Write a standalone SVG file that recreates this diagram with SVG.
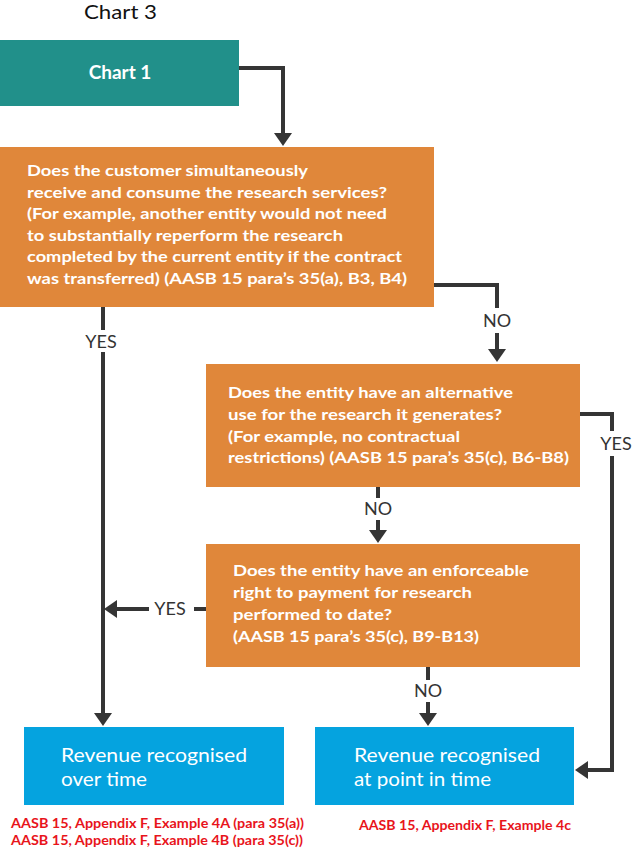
<svg xmlns="http://www.w3.org/2000/svg" width="634" height="862" viewBox="0 0 634 862">
<style>
.ln{fill:none;stroke:#353535;stroke-width:4;stroke-linejoin:miter}
.ah{fill:#353535}
.q{font-family:Lato,"Liberation Sans",sans-serif;font-weight:700;font-size:16px;fill:#fff}
.lbl{font-family:Lato,"Liberation Sans",sans-serif;font-size:18px;fill:#333;text-anchor:middle}
.res{font-family:Lato,"Liberation Sans",sans-serif;font-size:19px;fill:#fff}
.ref{font-family:Lato,"Liberation Sans",sans-serif;font-weight:700;font-size:12.5px;fill:#E8141B}
</style>
<text x="84" y="19" font-family="Lato,'Liberation Sans',sans-serif" font-size="19" fill="#111" textLength="73" lengthAdjust="spacingAndGlyphs">Chart 3</text>
<g id="chart1">
<rect x="0" y="40" width="239" height="66" fill="#21908A"/>
<text x="120" y="79" font-family="Lato,'Liberation Sans',sans-serif" font-size="19" font-weight="700" fill="#fff" text-anchor="middle">Chart 1</text>
</g>
<g id="q1">
<rect x="0" y="147" width="434" height="160" fill="#E0873A"/>
<text class="q"><tspan x="27" y="176" textLength="281" lengthAdjust="spacingAndGlyphs">Does the customer simultaneously</tspan><tspan x="27" y="197.5" textLength="360" lengthAdjust="spacingAndGlyphs">receive and consume the research services?</tspan><tspan x="27" y="219" textLength="360" lengthAdjust="spacingAndGlyphs">(For example, another entity would not need</tspan><tspan x="27" y="240.5" textLength="316" lengthAdjust="spacingAndGlyphs">to substantially reperform the research</tspan><tspan x="27" y="262" textLength="375" lengthAdjust="spacingAndGlyphs">completed by the current entity if the contract</tspan><tspan x="27" y="283.5" textLength="380" lengthAdjust="spacingAndGlyphs">was transferred) (AASB 15 para’s 35(a), B3, B4)</tspan></text>
</g>
<g id="q2">
<rect x="206" y="364" width="374" height="123" fill="#E0873A"/>
<text class="q"><tspan x="228" y="398" textLength="285" lengthAdjust="spacingAndGlyphs">Does the entity have an alternative</tspan><tspan x="228" y="420" textLength="274" lengthAdjust="spacingAndGlyphs">use for the research it generates?</tspan><tspan x="228" y="441.5" textLength="232" lengthAdjust="spacingAndGlyphs">(For example, no contractual</tspan><tspan x="228" y="463" textLength="341" lengthAdjust="spacingAndGlyphs">restrictions) (AASB 15 para’s 35(c), B6-B8)</tspan></text>
</g>
<g id="q3">
<rect x="206" y="544" width="374" height="123" fill="#E0873A"/>
<text class="q"><tspan x="233" y="575.5" textLength="296" lengthAdjust="spacingAndGlyphs">Does the entity have an enforceable</tspan><tspan x="233" y="597.5" textLength="239" lengthAdjust="spacingAndGlyphs">right to payment for research</tspan><tspan x="233" y="619.5" textLength="159" lengthAdjust="spacingAndGlyphs">performed to date?</tspan><tspan x="233" y="641.5" textLength="246" lengthAdjust="spacingAndGlyphs">(AASB 15 para’s 35(c), B9-B13)</tspan></text>
</g>
<g id="overtime">
<rect x="24" y="727" width="260" height="78" fill="#05A3DF"/>
<text class="res"><tspan x="61" y="762" textLength="186" lengthAdjust="spacingAndGlyphs">Revenue recognised</tspan><tspan x="61" y="786" textLength="86" lengthAdjust="spacingAndGlyphs">over time</tspan></text>
</g>
<g id="pointintime">
<rect x="315" y="727" width="259" height="78" fill="#05A3DF"/>
<text class="res"><tspan x="354" y="762" textLength="186" lengthAdjust="spacingAndGlyphs">Revenue recognised</tspan><tspan x="354" y="786" textLength="137" lengthAdjust="spacingAndGlyphs">at point in time</tspan></text>
</g>
<g id="refs">
<text class="ref"><tspan x="11" y="828" textLength="293" lengthAdjust="spacingAndGlyphs">AASB 15, Appendix F, Example 4A (para 35(a))</tspan><tspan x="11" y="845" textLength="292" lengthAdjust="spacingAndGlyphs">AASB 15, Appendix F, Example 4B (para 35(c))</tspan></text>
<text class="ref" x="359" y="830" textLength="212" lengthAdjust="spacingAndGlyphs">AASB 15, Appendix F, Example 4c</text>
</g>
<g id="connectors">
<polyline class="ln" points="239,68 283,68 283,134"/>
<polygon class="ah" points="274,133 292,133 283,146"/>
<line class="ln" x1="103" y1="307" x2="103" y2="330"/>
<text class="lbl" x="101" y="348">YES</text>
<line class="ln" x1="103" y1="352" x2="103" y2="714"/>
<polygon class="ah" points="94,713 112,713 103,726"/>
<polyline class="ln" points="434,285 497,285 497,308"/>
<text class="lbl" x="497" y="327">NO</text>
<line class="ln" x1="497" y1="333" x2="497" y2="350"/>
<polygon class="ah" points="488,349 506,349 497,362"/>
<polyline class="ln" points="580,414 612,414 612,431"/>
<text class="lbl" x="616" y="450">YES</text>
<polyline class="ln" points="612,456 612,770 587,770"/>
<polygon class="ah" points="588,761 588,779 575,770"/>
<line class="ln" x1="378" y1="487" x2="378" y2="498"/>
<text class="lbl" x="378" y="515">NO</text>
<line class="ln" x1="378" y1="520" x2="378" y2="531"/>
<polygon class="ah" points="369,530 387,530 378,543"/>
<line class="ln" x1="206" y1="609" x2="194" y2="609"/>
<text class="lbl" x="170" y="615">YES</text>
<line class="ln" x1="149" y1="609" x2="116" y2="609"/>
<polygon class="ah" points="117,600 117,618 104,609"/>
<line class="ln" x1="428" y1="667" x2="428" y2="680"/>
<text class="lbl" x="428" y="697">NO</text>
<line class="ln" x1="428" y1="702" x2="428" y2="714"/>
<polygon class="ah" points="419,713 437,713 428,726"/>
</g>
</svg>
